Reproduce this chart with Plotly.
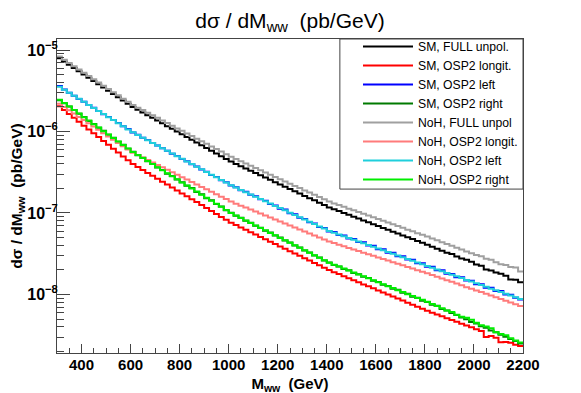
import plotly.graph_objects as go

# 20 GeV bins from 300 to 2200 GeV
bin_edges = list(range(300, 2201, 20))

sm_full = [7.94e-6, 7.24e-6, 6.61e-6, 6.03e-6, 5.50e-6, 5.01e-6, 4.57e-6, 4.17e-6, 3.80e-6, 3.47e-6,
           3.16e-6, 2.88e-6, 2.63e-6, 2.40e-6, 2.19e-6, 2.00e-6, 1.85e-6, 1.71e-6, 1.58e-6, 1.47e-6,
           1.36e-6, 1.26e-6, 1.16e-6, 1.08e-6, 9.97e-7, 9.23e-7, 8.54e-7, 7.91e-7, 7.32e-7, 6.78e-7,
           6.27e-7, 5.81e-7, 5.38e-7, 4.98e-7, 4.61e-7, 4.27e-7, 4.00e-7, 3.75e-7, 3.52e-7, 3.30e-7,
           3.09e-7, 2.90e-7, 2.72e-7, 2.55e-7, 2.39e-7, 2.24e-7, 2.10e-7, 1.97e-7, 1.85e-7, 1.73e-7,
           1.62e-7, 1.52e-7, 1.43e-7, 1.34e-7, 1.25e-7, 1.17e-7, 1.11e-7, 1.06e-7, 1.00e-7, 9.51e-8,
           9.02e-8, 8.55e-8, 8.11e-8, 7.69e-8, 7.29e-8, 6.92e-8, 6.56e-8, 6.22e-8, 5.90e-8, 5.60e-8,
           5.31e-8, 5.04e-8, 4.78e-8, 4.53e-8, 4.30e-8, 4.07e-8, 3.85e-8, 3.65e-8, 3.44e-8, 3.26e-8,
           3.15e-8, 2.92e-8, 2.76e-8, 2.66e-8, 2.52e-8, 2.33e-8, 2.25e-8, 2.02e-8, 1.97e-8, 1.86e-8,
           1.80e-8, 1.70e-8, 1.53e-8, 1.52e-8, 1.41e-8]

sm_long = [2.04e-6, 1.83e-6, 1.64e-6, 1.47e-6, 1.32e-6, 1.18e-6, 1.06e-6, 9.52e-7, 8.54e-7, 7.66e-7,
           6.87e-7, 6.16e-7, 5.52e-7, 4.95e-7, 4.44e-7, 3.98e-7, 3.66e-7, 3.37e-7, 3.10e-7, 2.86e-7,
           2.63e-7, 2.42e-7, 2.23e-7, 2.05e-7, 1.89e-7, 1.74e-7, 1.60e-7, 1.47e-7, 1.36e-7, 1.25e-7,
           1.15e-7, 1.06e-7, 9.73e-8, 8.95e-8, 8.24e-8, 7.59e-8, 7.10e-8, 6.64e-8, 6.21e-8, 5.81e-8,
           5.43e-8, 5.08e-8, 4.75e-8, 4.45e-8, 4.16e-8, 3.89e-8, 3.64e-8, 3.40e-8, 3.18e-8, 2.98e-8,
           2.79e-8, 2.61e-8, 2.44e-8, 2.28e-8, 2.13e-8, 2.00e-8, 1.88e-8, 1.78e-8, 1.68e-8, 1.58e-8,
           1.50e-8, 1.41e-8, 1.33e-8, 1.26e-8, 1.19e-8, 1.12e-8, 1.06e-8, 1.00e-8, 9.44e-9, 8.91e-9,
           8.41e-9, 7.94e-9, 7.50e-9, 7.08e-9, 6.68e-9, 6.31e-9, 5.99e-9, 5.68e-9, 5.40e-9, 5.12e-9,
           4.86e-9, 4.62e-9, 4.38e-9, 4.16e-9, 3.95e-9, 3.75e-9, 3.56e-9, 3.00e-9, 3.10e-9, 2.95e-9,
           2.60e-9, 2.62e-9, 2.55e-9, 2.42e-9, 2.34e-9]

sm_left = [3.62e-6, 3.28e-6, 2.99e-6, 2.75e-6, 2.51e-6, 2.32e-6, 2.11e-6, 1.95e-6, 1.78e-6, 1.63e-6,
           1.51e-6, 1.38e-6, 1.27e-6, 1.16e-6, 1.07e-6, 9.72e-7, 9.10e-7, 8.38e-7, 7.84e-7, 7.20e-7,
           6.75e-7, 6.22e-7, 5.82e-7, 5.35e-7, 5.00e-7, 4.60e-7, 4.31e-7, 3.96e-7, 3.72e-7, 3.41e-7,
           3.20e-7, 2.93e-7, 2.76e-7, 2.52e-7, 2.38e-7, 2.17e-7, 2.07e-7, 1.90e-7, 1.82e-7, 1.67e-7,
           1.60e-7, 1.47e-7, 1.41e-7, 1.29e-7, 1.24e-7, 1.13e-7, 1.10e-7, 9.95e-8, 9.62e-8, 8.74e-8,
           8.46e-8, 7.68e-8, 7.45e-8, 6.74e-8, 6.55e-8, 5.92e-8, 5.86e-8, 5.36e-8, 5.30e-8, 4.86e-8,
           4.80e-8, 4.40e-8, 4.36e-8, 3.98e-8, 3.95e-8, 3.60e-8, 3.58e-8, 3.26e-8, 3.25e-8, 2.95e-8,
           2.94e-8, 2.68e-8, 2.66e-8, 2.42e-8, 2.41e-8, 2.19e-8, 2.19e-8, 1.98e-8, 1.98e-8, 1.80e-8,
           1.79e-8, 1.63e-8, 1.63e-8, 1.48e-8, 1.47e-8, 1.34e-8, 1.34e-8, 1.21e-8, 1.21e-8, 1.10e-8,
           1.10e-8, 1.00e-8, 9.95e-9, 9.10e-9, 8.70e-9]

sm_right = [2.42e-6, 2.22e-6, 2.02e-6, 1.84e-6, 1.65e-6, 1.51e-6, 1.35e-6, 1.24e-6, 1.11e-6, 1.02e-6,
            9.12e-7, 8.38e-7, 7.49e-7, 6.90e-7, 6.15e-7, 5.66e-7, 5.12e-7, 4.77e-7, 4.30e-7, 4.01e-7,
            3.62e-7, 3.38e-7, 3.04e-7, 2.84e-7, 2.57e-7, 2.39e-7, 2.16e-7, 2.02e-7, 1.81e-7, 1.70e-7,
            1.52e-7, 1.43e-7, 1.29e-7, 1.20e-7, 1.08e-7, 1.01e-7, 9.25e-8, 8.76e-8, 8.04e-8, 7.61e-8,
            6.99e-8, 6.61e-8, 6.07e-8, 5.75e-8, 5.28e-8, 4.99e-8, 4.59e-8, 4.34e-8, 3.98e-8, 3.77e-8,
            3.46e-8, 3.28e-8, 3.00e-8, 2.84e-8, 2.61e-8, 2.47e-8, 2.30e-8, 2.21e-8, 2.06e-8, 1.99e-8,
            1.84e-8, 1.77e-8, 1.65e-8, 1.59e-8, 1.47e-8, 1.42e-8, 1.32e-8, 1.27e-8, 1.18e-8, 1.14e-8,
            1.05e-8, 1.02e-8, 9.40e-9, 9.15e-9, 8.40e-9, 8.10e-9, 7.48e-9, 7.25e-9, 6.62e-9, 6.35e-9,
            5.92e-9, 5.60e-9, 5.22e-9, 4.96e-9, 4.60e-9, 4.40e-9, 4.08e-9, 3.90e-9, 3.62e-9, 3.45e-9,
            3.20e-9, 3.02e-9, 2.84e-9, 2.68e-9, 2.50e-9]

noh_full = [8.32e-6, 7.59e-6, 6.93e-6, 6.32e-6, 5.77e-6, 5.27e-6, 4.81e-6, 4.39e-6, 4.00e-6, 3.65e-6,
            3.33e-6, 3.04e-6, 2.78e-6, 2.53e-6, 2.31e-6, 2.11e-6, 1.96e-6, 1.83e-6, 1.70e-6, 1.58e-6,
            1.47e-6, 1.36e-6, 1.27e-6, 1.18e-6, 1.09e-6, 1.02e-6, 9.46e-7, 8.79e-7, 8.17e-7, 7.60e-7,
            7.06e-7, 6.56e-7, 6.10e-7, 5.67e-7, 5.27e-7, 4.90e-7, 4.60e-7, 4.32e-7, 4.05e-7, 3.80e-7,
            3.57e-7, 3.35e-7, 3.15e-7, 2.95e-7, 2.77e-7, 2.60e-7, 2.44e-7, 2.29e-7, 2.15e-7, 2.02e-7,
            1.89e-7, 1.78e-7, 1.67e-7, 1.57e-7, 1.47e-7, 1.38e-7, 1.31e-7, 1.25e-7, 1.19e-7, 1.13e-7,
            1.08e-7, 1.03e-7, 9.76e-8, 9.29e-8, 8.84e-8, 8.41e-8, 8.01e-8, 7.62e-8, 7.25e-8, 6.90e-8,
            6.57e-8, 6.25e-8, 5.95e-8, 5.66e-8, 5.39e-8, 5.13e-8, 4.87e-8, 4.62e-8, 4.39e-8, 4.17e-8,
            3.95e-8, 3.75e-8, 3.56e-8, 3.38e-8, 3.21e-8, 3.05e-8, 2.95e-8, 2.75e-8, 2.66e-8, 2.48e-8,
            2.35e-8, 2.30e-8, 2.18e-8, 2.15e-8, 1.91e-8]

noh_long = [2.19e-6, 2.00e-6, 1.82e-6, 1.66e-6, 1.51e-6, 1.38e-6, 1.26e-6, 1.15e-6, 1.05e-6, 9.55e-7,
            8.71e-7, 7.94e-7, 7.24e-7, 6.61e-7, 6.03e-7, 5.50e-7, 5.13e-7, 4.79e-7, 4.47e-7, 4.17e-7,
            3.89e-7, 3.63e-7, 3.39e-7, 3.16e-7, 2.95e-7, 2.75e-7, 2.57e-7, 2.40e-7, 2.24e-7, 2.09e-7,
            1.95e-7, 1.82e-7, 1.70e-7, 1.58e-7, 1.48e-7, 1.38e-7, 1.30e-7, 1.23e-7, 1.17e-7, 1.10e-7,
            1.04e-7, 9.84e-8, 9.30e-8, 8.79e-8, 8.31e-8, 7.85e-8, 7.42e-8, 7.01e-8, 6.63e-8, 6.27e-8,
            5.92e-8, 5.60e-8, 5.29e-8, 5.00e-8, 4.73e-8, 4.47e-8, 4.27e-8, 4.08e-8, 3.90e-8, 3.73e-8,
            3.57e-8, 3.41e-8, 3.26e-8, 3.12e-8, 2.98e-8, 2.85e-8, 2.73e-8, 2.61e-8, 2.49e-8, 2.38e-8,
            2.28e-8, 2.18e-8, 2.08e-8, 1.99e-8, 1.90e-8, 1.82e-8, 1.73e-8, 1.65e-8, 1.57e-8, 1.50e-8,
            1.43e-8, 1.36e-8, 1.30e-8, 1.23e-8, 1.18e-8, 1.12e-8, 1.07e-8, 1.02e-8, 9.69e-9, 9.23e-9,
            8.80e-9, 8.38e-9, 7.98e-9, 7.60e-9, 7.24e-9]

noh_left = [3.55e-6, 3.26e-6, 2.99e-6, 2.74e-6, 2.52e-6, 2.31e-6, 2.12e-6, 1.94e-6, 1.78e-6, 1.64e-6,
            1.50e-6, 1.38e-6, 1.26e-6, 1.16e-6, 1.06e-6, 9.77e-7, 9.07e-7, 8.41e-7, 7.81e-7, 7.24e-7,
            6.72e-7, 6.24e-7, 5.79e-7, 5.37e-7, 4.98e-7, 4.62e-7, 4.29e-7, 3.98e-7, 3.69e-7, 3.43e-7,
            3.18e-7, 2.95e-7, 2.74e-7, 2.54e-7, 2.36e-7, 2.19e-7, 2.05e-7, 1.92e-7, 1.80e-7, 1.69e-7,
            1.58e-7, 1.49e-7, 1.39e-7, 1.31e-7, 1.22e-7, 1.15e-7, 1.08e-7, 1.01e-7, 9.46e-8, 8.87e-8,
            8.32e-8, 7.80e-8, 7.31e-8, 6.85e-8, 6.43e-8, 6.03e-8, 5.74e-8, 5.46e-8, 5.19e-8, 4.94e-8,
            4.70e-8, 4.48e-8, 4.26e-8, 4.06e-8, 3.86e-8, 3.67e-8, 3.50e-8, 3.33e-8, 3.17e-8, 3.01e-8,
            2.87e-8, 2.73e-8, 2.60e-8, 2.47e-8, 2.35e-8, 2.24e-8, 2.13e-8, 2.03e-8, 1.93e-8, 1.84e-8,
            1.75e-8, 1.67e-8, 1.59e-8, 1.51e-8, 1.44e-8, 1.37e-8, 1.31e-8, 1.24e-8, 1.18e-8, 1.13e-8,
            1.07e-8, 1.02e-8, 9.72e-9, 9.26e-9, 8.81e-9]

noh_right = [2.45e-6, 2.23e-6, 2.02e-6, 1.83e-6, 1.66e-6, 1.50e-6, 1.36e-6, 1.23e-6, 1.12e-6, 1.01e-6,
             9.19e-7, 8.33e-7, 7.55e-7, 6.84e-7, 6.20e-7, 5.62e-7, 5.16e-7, 4.73e-7, 4.34e-7, 3.98e-7,
             3.65e-7, 3.35e-7, 3.07e-7, 2.82e-7, 2.59e-7, 2.37e-7, 2.18e-7, 2.00e-7, 1.83e-7, 1.68e-7,
             1.54e-7, 1.41e-7, 1.30e-7, 1.19e-7, 1.09e-7, 1.00e-7, 9.32e-8, 8.69e-8, 8.10e-8, 7.55e-8,
             7.04e-8, 6.56e-8, 6.12e-8, 5.70e-8, 5.32e-8, 4.95e-8, 4.62e-8, 4.31e-8, 4.01e-8, 3.74e-8,
             3.49e-8, 3.25e-8, 3.03e-8, 2.82e-8, 2.63e-8, 2.45e-8, 2.32e-8, 2.20e-8, 2.08e-8, 1.97e-8,
             1.86e-8, 1.76e-8, 1.67e-8, 1.58e-8, 1.49e-8, 1.41e-8, 1.34e-8, 1.26e-8, 1.20e-8, 1.13e-8,
             1.07e-8, 1.01e-8, 9.59e-9, 9.08e-9, 8.59e-9, 8.13e-9, 7.65e-9, 7.20e-9, 6.78e-9, 6.38e-9,
             6.10e-9, 5.65e-9, 5.32e-9, 5.20e-9, 4.90e-9, 4.50e-9, 4.18e-9, 4.05e-9, 3.85e-9, 3.45e-9,
             3.28e-9, 3.15e-9, 2.90e-9, 2.73e-9, 2.57e-9]

series = [
    ("SM, FULL unpol.", sm_full, "#000000"),
    ("SM, OSP2 longit.", sm_long, "#ff0000"),
    ("SM, OSP2 left", sm_left, "#0000ff"),
    ("SM, OSP2 right", sm_right, "#007a00"),
    ("NoH, FULL unpol", noh_full, "#a0a0a0"),
    ("NoH, OSP2 longit.", noh_long, "#ff7b7b"),
    ("NoH, OSP2 left", noh_left, "#1fcfdc"),
    ("NoH, OSP2 right", noh_right, "#00ee00"),
]

y_tickvals = [1e-8, 1e-7, 1e-6, 1e-5]
y_ticktext = ["10<sup>\u22128</sup>", "10<sup>\u22127</sup>", "10<sup>\u22126</sup>", "10<sup>\u22125</sup>"]

fig = go.Figure()
for name, vals, col in series:
    # histogram drawn as steps: repeat last bin content at the upper edge
    fig.add_trace(go.Scatter(
        x=bin_edges, y=vals + [vals[-1]], name=name, mode="lines",
        line=dict(color=col, width=2, shape="hv"),
    ))

# legend box outline (top/right coincide with the frame)
fig.add_shape(type="rect", xref="paper", yref="paper", x0=0.607, x1=1, y0=0.522, y1=1,
              line=dict(color="#444", width=1), layer="above")

# the page body adds an 8px offset, margins below compensate for it
font = "Liberation Sans, Arial, Helvetica, sans-serif"
fig.update_layout(
    width=581, height=393,
    margin=dict(l=49, r=66, t=31, b=48),
    paper_bgcolor="white", plot_bgcolor="white",
    font=dict(family=font, color="black"),
    title=dict(text="d\u03c3 / dM<sub>ww</sub>\u00a0 (pb/GeV)", x=0.4854, xanchor="center",
               y=0.968, yanchor="middle", font=dict(size=21)),
    showlegend=True,
    legend=dict(x=1, xanchor="right", y=1.022, yanchor="top", bgcolor="rgba(0,0,0,0)",
                borderwidth=0, font=dict(size=12.2), tracegroupgap=0, itemwidth=50),
)
fig.update_xaxes(
    range=[300, 2200], showgrid=False, zeroline=False, automargin=False,
    showline=True, linecolor="#444", linewidth=1, mirror=True,
    ticks="inside", ticklen=9, tickcolor="#444", dtick=200, tick0=0,
    minor=dict(ticks="inside", ticklen=5, dtick=50, tickcolor="#444"),
    tickfont=dict(size=15, weight="bold"), ticklabelstandoff=-2,
    title=dict(text="M<sub>ww</sub>\u00a0 (GeV)", font=dict(size=15, weight="bold"), standoff=6),
)
fig.update_yaxes(
    type="log", range=[-8.718, -4.865], showgrid=False, zeroline=False, automargin=False,
    showline=True, linecolor="#444", linewidth=1, mirror=True,
    ticks="inside", ticklen=13, tickcolor="#444",
    tickmode="array", tickvals=y_tickvals, ticktext=y_ticktext,
    minor=dict(ticks="inside", ticklen=7, dtick="D1", tickcolor="#444"),
    tickfont=dict(size=16, weight="bold"), ticklabelstandoff=-5,
    title=dict(text="d\u03c3 / dM<sub>ww</sub>\u00a0 (pb/GeV)", font=dict(size=15.5, weight="bold"), standoff=0),
)

fig.write_html("out.html")
